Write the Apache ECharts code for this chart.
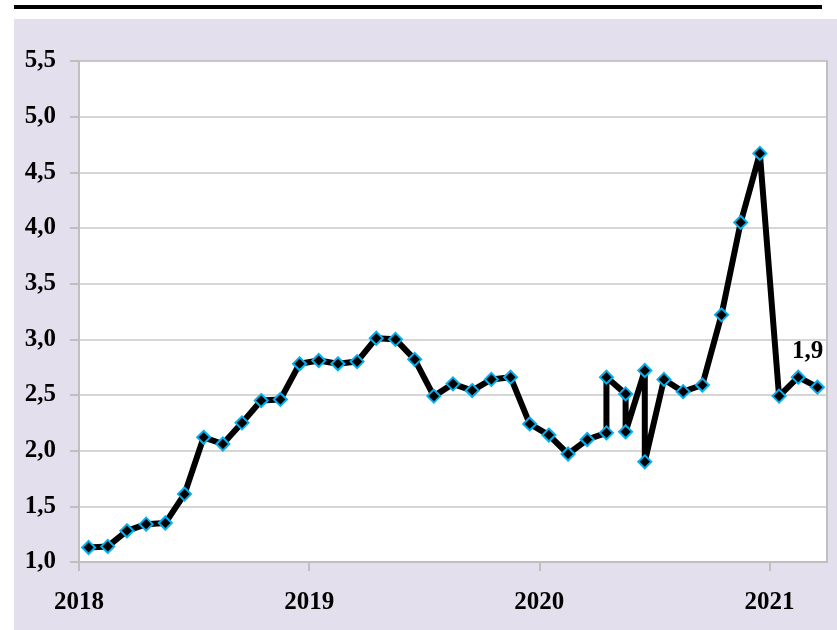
<!DOCTYPE html>
<html>
<head>
    <meta charset="utf-8">
    <title>chart</title>
    <script src="https://cdn.jsdelivr.net/npm/echarts@6.0.0/dist/echarts.min.js"></script>
    <style>
        html, body { margin: 0; padding: 0; background: #ffffff; }
        #topRule { position: absolute; left: 14px; top: 5px; width: 808px; height: 4px; background: #000; }
        #chart1 { position: absolute; left: 14px; top: 19px; width: 823px; height: 611px; background: #e4dfec; }
    </style>
</head>
<body>
<div id="topRule"></div>
<div id="chart1"></div>
<script>
    // month offset from Jan 2018 (some months carry two readings)
    var monthIndex = [0, 1, 2, 3, 4, 5, 6, 7, 8, 9, 10, 11,
        12, 13, 14, 15, 16, 17, 18, 19, 20, 21, 22, 23,
        24, 25, 26, 27, 27, 28, 28, 29, 29, 30, 31, 32, 33, 34, 35,
        36, 37, 38];
    var rate = [1.13, 1.14, 1.28, 1.34, 1.35, 1.61, 2.12, 2.06, 2.25, 2.45, 2.46, 2.78,
        2.81, 2.78, 2.80, 3.01, 3.00, 2.82, 2.49, 2.60, 2.54, 2.64, 2.66, 2.24,
        2.14, 1.97, 2.10, 2.16, 2.66, 2.51, 2.17, 2.72, 1.90, 2.64, 2.53, 2.59, 3.22, 4.05, 4.67,
        2.49, 2.66, 2.57];
    var years = ['2018', '2019', '2020', '2021'];
    var yearTicks = [0, 12, 24, 36];
    var noteText = '1,9';

    var points = [];
    for (var i = 0; i < rate.length; i++) {
        points.push([monthIndex[i] + 0.5, rate[i]]);
    }

    var font = '"Liberation Serif", "DejaVu Serif", serif';
    var chart = echarts.init(document.getElementById('chart1'));
    chart.setOption({
        animation: false,
        grid: {
            left: 65, right: 10, top: 42, bottom: 68,
            show: true, backgroundColor: '#ffffff',
            borderColor: '#c0c0c0', borderWidth: 2
        },
        xAxis: {
            type: 'value', min: 0, max: 39, interval: 12,
            axisLine: { lineStyle: { color: '#bfbfbf', width: 2 } },
            axisTick: { show: true, length: 9, customValues: yearTicks, lineStyle: { color: '#bfbfbf', width: 2 } },
            axisLabel: {
                customValues: yearTicks,
                margin: 28,
                color: '#000', fontFamily: font, fontWeight: 'bold', fontSize: 25,
                formatter: function (v) { return years[Math.round(v / 12)]; }
            },
            splitLine: { show: false }
        },
        yAxis: {
            type: 'value', min: 1, max: 5.5, interval: 0.5,
            axisLine: { show: true, lineStyle: { color: '#bfbfbf', width: 2 } },
            axisTick: { show: true, length: 9, lineStyle: { color: '#bfbfbf', width: 2 } },
            axisLabel: {
                margin: 23,
                color: '#000', fontFamily: font, fontWeight: 'bold', fontSize: 25,
                formatter: function (v) { return v.toFixed(1).replace('.', ','); }
            },
            splitLine: { lineStyle: { color: '#c8c8c8', width: 1.5 } }
        },
        graphic: [{
            type: 'text', left: 778, top: 320,
            style: { text: noteText, fill: '#000', font: 'bold 25px ' + font }
        }],
        series: [{
            type: 'line',
            data: points,
            lineStyle: { color: '#000000', width: 6 },
            symbol: 'diamond',
            symbolSize: 13,
            itemStyle: { color: '#000000', borderColor: '#00b0f0', borderWidth: 2 }
        }]
    });
</script>
</body>
</html>
